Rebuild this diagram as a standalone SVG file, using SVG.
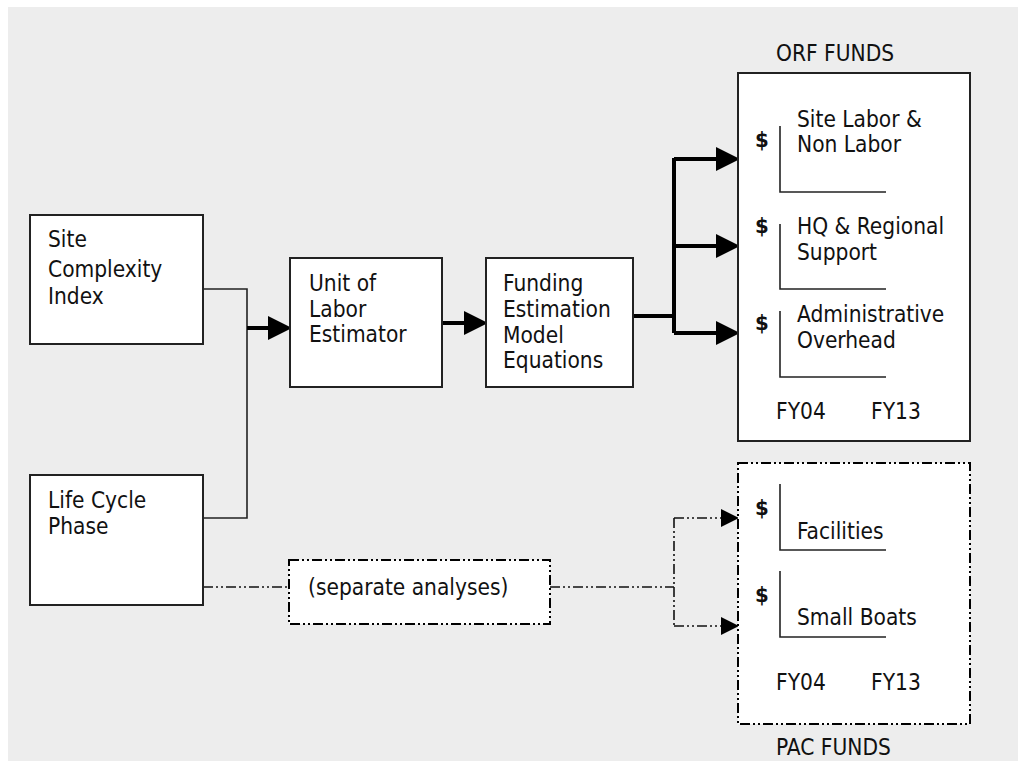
<svg xmlns="http://www.w3.org/2000/svg" width="1018" height="761" viewBox="0 0 1018 761">
<defs>
<style>
.bg{fill:#ededed}
.box{fill:#fff;stroke:#222;stroke-width:2}
.dbox{fill:#fff;stroke:#000;stroke-width:2;stroke-dasharray:10 3 2 3 2 3}
.t{font-family:"DejaVu Sans Condensed","DejaVu Sans",sans-serif;font-stretch:condensed;font-size:22.5px;fill:#111}
.b{font-family:"DejaVu Sans Condensed","DejaVu Sans",sans-serif;font-stretch:condensed;font-size:22px;font-weight:bold;fill:#111}
.thin{fill:none;stroke:#222;stroke-width:1.6}
.thick{fill:none;stroke:#000;stroke-width:4}
.dd{fill:none;stroke:#111;stroke-width:1.6;stroke-dasharray:10 3 2 3 2 3}
.axis{fill:none;stroke:#222;stroke-width:1.6}
</style>
<marker id="ah" markerUnits="userSpaceOnUse" markerWidth="24" markerHeight="24" refX="0" refY="11" orient="auto" viewBox="0 0 22 22">
<path d="M0,0 L22,11 L0,22 Z" fill="#000"/>
</marker>
<marker id="ahs" markerUnits="userSpaceOnUse" markerWidth="18" markerHeight="18" refX="0" refY="8.5" orient="auto" viewBox="0 0 17 17">
<path d="M0,0 L17,8.5 L0,17 Z" fill="#000"/>
</marker>
</defs>
<rect class="bg" x="8" y="7" width="1010" height="754"/>

<g id="connectors">
<path class="thin" d="M203,289 H247 V518 H203"/>
<path class="thick" d="M247,328 H268" marker-end="url(#ah)"/>
<path class="thick" d="M442,323 H464" marker-end="url(#ah)"/>
<path class="thick" d="M633,316 H674"/>
<path class="thick" d="M674,158 V333"/>
<path class="thick" d="M674,159 H716" marker-end="url(#ah)"/>
<path class="thick" d="M674,246 H716" marker-end="url(#ah)"/>
<path class="thick" d="M674,333 H716" marker-end="url(#ah)"/>
<path class="dd" d="M203,587 H289"/>
<path class="dd" d="M550,587 H674"/>
<path class="dd" d="M674,518 V626"/>
<path class="dd" d="M674,518 H721" marker-end="url(#ahs)"/>
<path class="dd" d="M674,626 H721" marker-end="url(#ahs)"/>
</g>

<g id="site-complexity">
<rect class="box" x="30" y="215" width="173" height="129"/>
<text class="t" x="48" y="247">Site</text>
<text class="t" x="48" y="277">Complexity</text>
<text class="t" x="48" y="304">Index</text>
</g>

<g id="life-cycle">
<rect class="box" x="30" y="475" width="173" height="130"/>
<text class="t" x="48" y="508">Life Cycle</text>
<text class="t" x="48" y="534">Phase</text>
</g>

<g id="unit-of-labor">
<rect class="box" x="290" y="258" width="152" height="129"/>
<text class="t" x="309" y="291">Unit of</text>
<text class="t" x="309" y="317">Labor</text>
<text class="t" x="309" y="342">Estimator</text>
</g>

<g id="funding-model">
<rect class="box" x="486" y="258" width="147" height="129"/>
<text class="t" x="503" y="291">Funding</text>
<text class="t" x="503" y="317">Estimation</text>
<text class="t" x="503" y="343">Model</text>
<text class="t" x="503" y="368">Equations</text>
</g>

<g id="separate-analyses">
<rect class="dbox" x="289" y="560" width="261" height="64"/>
<text class="t" x="308" y="595">(separate analyses)</text>
</g>

<g id="orf-funds">
<text class="t" x="776" y="61">ORF FUNDS</text>
<rect class="box" x="738" y="73" width="232" height="368"/>
<text class="b" x="755" y="147">$</text>
<path class="axis" d="M780,126 V192 H886"/>
<text class="t" x="797" y="127">Site Labor &amp;</text>
<text class="t" x="797" y="152">Non Labor</text>
<text class="b" x="755" y="233">$</text>
<path class="axis" d="M780,224 V289 H886"/>
<text class="t" x="797" y="234">HQ &amp; Regional</text>
<text class="t" x="797" y="260">Support</text>
<text class="b" x="755" y="330">$</text>
<path class="axis" d="M780,311 V377 H886"/>
<text class="t" x="797" y="322">Administrative</text>
<text class="t" x="797" y="348">Overhead</text>
<text class="t" x="776" y="419">FY04</text>
<text class="t" x="871" y="419">FY13</text>
</g>

<g id="pac-funds">
<rect class="dbox" x="738" y="463" width="232" height="261"/>
<text class="b" x="755" y="515">$</text>
<path class="axis" d="M780,484 V550 H886"/>
<text class="t" x="797" y="539">Facilities</text>
<text class="b" x="755" y="602">$</text>
<path class="axis" d="M780,571 V637 H886"/>
<text class="t" x="797" y="625">Small Boats</text>
<text class="t" x="776" y="690">FY04</text>
<text class="t" x="871" y="690">FY13</text>
<text class="t" x="776" y="755">PAC FUNDS</text>
</g>
</svg>
